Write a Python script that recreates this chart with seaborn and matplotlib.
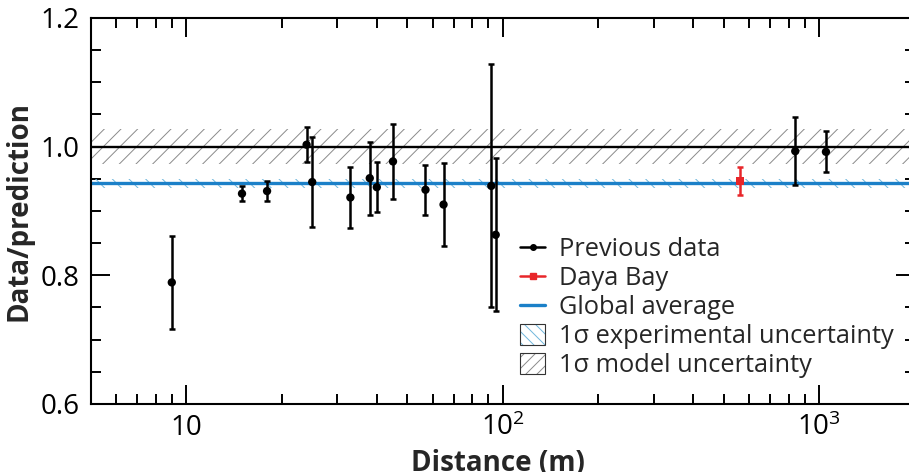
import matplotlib
matplotlib.use("Agg")
import matplotlib.pyplot as plt
import seaborn as sns
import pandas as pd
from matplotlib.lines import Line2D
from matplotlib.patches import Patch
from matplotlib.legend_handler import HandlerTuple
from matplotlib.ticker import FixedLocator, NullFormatter

# Reactor antineutrino flux measurements: ratio of data to model prediction
distance_m = [9.0, 15, 18, 24, 25, 33, 38, 40, 45, 57, 65, 92, 95, 840, 1050]
ratio = [0.789, 0.927, 0.931, 1.003, 0.945, 0.921, 0.951, 0.937, 0.977,
         0.933, 0.910, 0.939, 0.863, 0.993, 0.992]
ratio_err = [0.072, 0.012, 0.016, 0.027, 0.070, 0.048, 0.057, 0.039, 0.058,
             0.039, 0.065, 0.189, 0.119, 0.053, 0.032]

dayabay_distance = [562]
dayabay_ratio = [0.947]
dayabay_err = [0.0215]

global_avg = 0.943
global_avg_err = 0.0065
model_center = 1.0
model_err = 0.027

y_ticks = [0.6, 0.8, 1.0, 1.2]
y_tick_labels = ["0.6", "0.8", "1.0", "1.2"]
x_ticks = [10, 100, 1000]
x_tick_labels = ["10", r"$10^2$", r"$10^3$"]

BLUE = "#1b80c8"
LIGHT_BLUE = "#6fb6dc"
RED = "#e8262a"
GREY = "#8a8a8a"

sns.set_theme(style="ticks")
plt.rcParams["font.family"] = ["Open Sans", "DejaVu Sans"]
plt.rcParams["mathtext.fontset"] = "custom"
plt.rcParams["mathtext.rm"] = "Open Sans"
plt.rcParams["mathtext.it"] = "Open Sans"
plt.rcParams["hatch.linewidth"] = 0.7

prev = pd.DataFrame({"distance": distance_m, "ratio": ratio, "err": ratio_err})
dyb = pd.DataFrame({"distance": dayabay_distance, "ratio": dayabay_ratio, "err": dayabay_err})

fig = plt.figure(figsize=(9.09, 4.72), dpi=100)
ax = fig.add_axes([91 / 909, 68 / 472, 823.5 / 909, 386 / 472])
ax.set_xscale("log")

# uncertainty bands
ax.axhspan(model_center - model_err, model_center + model_err, facecolor="none",
           edgecolor=GREY, hatch="//", linewidth=0, zorder=1)
ax.axhspan(global_avg - global_avg_err, global_avg + global_avg_err, facecolor="none",
           edgecolor=LIGHT_BLUE, hatch="\\\\", linewidth=0, zorder=1)

# reference lines
ax.axhline(model_center, color="black", lw=1.7, zorder=2)
ax.axhline(global_avg, color=BLUE, lw=2.4, zorder=2)

# error bars and points
ax.errorbar(prev["distance"], prev["ratio"], yerr=prev["err"], fmt="none",
            ecolor="black", elinewidth=1.8, capsize=2.5, capthick=1.8, zorder=3)
sns.scatterplot(data=prev, x="distance", y="ratio", ax=ax, color="black",
                s=36, edgecolor="none", zorder=4, legend=False)
ax.errorbar(dyb["distance"], dyb["ratio"], yerr=dyb["err"], fmt="none",
            ecolor=RED, elinewidth=1.8, capsize=2.5, capthick=1.8, zorder=3)
sns.scatterplot(data=dyb, x="distance", y="ratio", ax=ax, color=RED, marker="s",
                s=36, edgecolor="none", zorder=4, legend=False)

ax.set_xlim(5, 2000)
ax.set_ylim(0.6, 1.2)

ax.yaxis.set_major_locator(FixedLocator(y_ticks))
ax.set_yticklabels(y_tick_labels)
ax.yaxis.set_minor_locator(FixedLocator([0.6 + 0.05 * i for i in range(13)]))
ax.xaxis.set_major_locator(FixedLocator(x_ticks))
ax.set_xticklabels(x_tick_labels)
minor_x = [m * 10 ** e for e in range(0, 4) for m in range(2, 10)]
ax.xaxis.set_minor_locator(FixedLocator(minor_x))
ax.xaxis.set_minor_formatter(NullFormatter())

for s in ax.spines.values():
    s.set_visible(True)
    s.set_linewidth(1.5)
    s.set_color("black")

ax.tick_params(which="both", direction="in", top=True, right=True,
               color="black", width=1.4, labelsize=20, labelcolor="black")
ax.tick_params(which="major", length=14)
ax.tick_params(which="minor", length=7)
ax.tick_params(axis="y", which="major", pad=8)
ax.tick_params(axis="x", which="major", pad=7)

ax.set_xlabel("Distance (m)", fontsize=20, fontweight="bold")
ax.set_ylabel("Data/prediction", fontsize=20, fontweight="bold")
ax.xaxis.set_label_coords((498 - 91) / 823.5, (404 - 449) / 386)
ax.yaxis.set_label_coords((34 - 91) / 823.5, 0.5)

handles = [
    Line2D([0], [0], color="black", lw=1.8, marker="o", markersize=4),
    Line2D([0], [0], color=RED, lw=1.8, marker="s", markersize=4),
    Line2D([0], [0], color=BLUE, lw=2.4),
    (Patch(facecolor="none", edgecolor=LIGHT_BLUE, hatch="\\\\\\", linewidth=0),
     Patch(facecolor="none", edgecolor="#333333", linewidth=0.8)),
    (Patch(facecolor="none", edgecolor=GREY, hatch="///", linewidth=0),
     Patch(facecolor="none", edgecolor="#333333", linewidth=0.8)),
]
labels = ["Previous data", "Daya Bay", "Global average",
          "1σ experimental uncertainty", "1σ model uncertainty"]
ax.legend(handles, labels, loc="upper left",
          bbox_to_anchor=((520 - 91) / 823.5, (404 - 237) / 386),
          bbox_transform=ax.transAxes, frameon=False, fontsize=18.3,
          borderpad=0, borderaxespad=0, handlelength=1.0, handletextpad=0.55,
          labelspacing=0.16, handleheight=0.85,
          handler_map={tuple: HandlerTuple(ndivide=1, pad=0)})

fig.savefig("out.png", dpi=100)
